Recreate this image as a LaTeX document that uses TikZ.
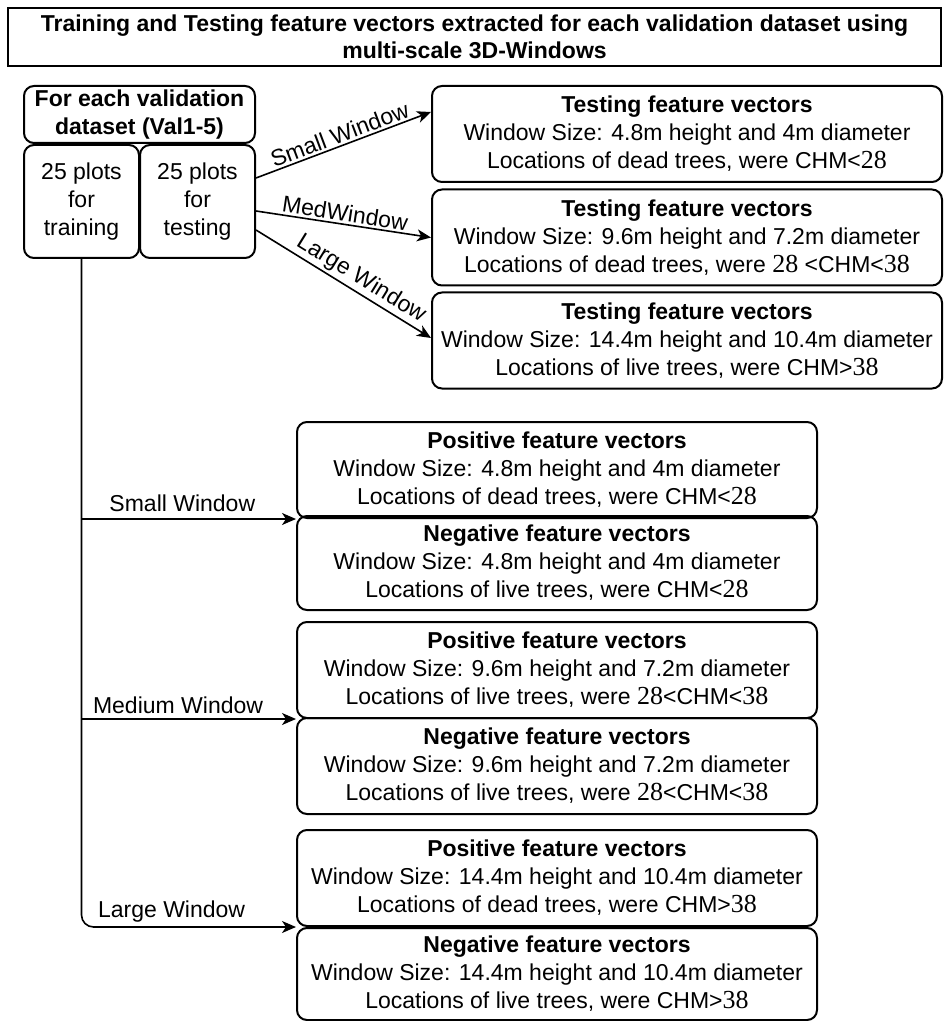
\documentclass[tikz,border=0pt]{standalone}
\usepackage{fontspec}
\setmainfont{Liberation Sans}
\newfontfamily\serifnum{Liberation Serif}
\usetikzlibrary{calc,arrows.meta}
\newcommand{\nb}[1]{{\serifnum\fontsize{13}{14}\selectfont #1}}
\tikzstyle{bx}=[draw, line width=1pt, rounded corners=5pt, align=center, inner sep=0, font=\fontsize{11.5}{14}\selectfont]
\tikzstyle{arr}=[line width=0.8pt, -{Stealth[length=7pt,width=6pt,inset=2pt]}]
\tikzstyle{lbl}=[font=\fontsize{11.5}{14}\selectfont, inner sep=2pt]

\begin{document}
\begin{tikzpicture}[x=0.5pt,y=-0.5pt]
\useasboundingbox (0,0) rectangle (944,1021);
\node at (474.5,37)[bx, rounded corners=0, line width=1.2pt, minimum width=466.5pt, minimum height=29pt, font=\bfseries\fontsize{11.5}{13.5}\selectfont](title){Training and Testing feature vectors extracted for each validation dataset using\\multi-scale 3D-Windows};
\node at (139.5,114.5)[bx, minimum width=115.5pt, minimum height=28.5pt](val){\textbf{For each validation}\\\textbf{dataset (Val1-5)}};
\node at (81.5,201.5)[bx, minimum width=57.5pt, minimum height=56.5pt](tr){25 plots\\for\\training};
\node at (197.5,201.5)[bx, minimum width=57.5pt, minimum height=56.5pt](te){25 plots\\for\\testing};
\node at (687,134)[bx, minimum width=255pt, minimum height=48pt](ts1){\textbf{Testing feature vectors}\\Window Size: 4.8m height and 4m diameter\\Locations of dead trees, were CHM<\nb{28}};
\node at (687,237.5)[bx, minimum width=255pt, minimum height=48pt](ts2){\textbf{Testing feature vectors}\\Window Size: 9.6m height and 7.2m diameter\\Locations of dead trees, were \nb{28} <CHM<\nb{38}};
\node at (687,340.5)[bx, minimum width=255pt, minimum height=48pt](ts3){\textbf{Testing feature vectors}\\Window Size: 14.4m height and 10.4m diameter\\Locations of live trees, were CHM>\nb{38}};
\node at (557,470)[bx, minimum width=260pt, minimum height=48pt](p1){\textbf{Positive feature vectors}\\Window Size: 4.8m height and 4m diameter\\Locations of dead trees, were CHM<\nb{28}};
\node at (557,563)[bx, minimum width=260pt, minimum height=47pt](n1){\textbf{Negative feature vectors}\\Window Size: 4.8m height and 4m diameter\\Locations of live trees, were CHM<\nb{28}};
\node at (557,670)[bx, minimum width=260pt, minimum height=48pt](p2){\textbf{Positive feature vectors}\\Window Size: 9.6m height and 7.2m diameter\\Locations of live trees, were \nb{28}<CHM<\nb{38}};
\node at (557,766)[bx, minimum width=260pt, minimum height=48pt](n2){\textbf{Negative feature vectors}\\Window Size: 9.6m height and 7.2m diameter\\Locations of live trees, were \nb{28}<CHM<\nb{38}};
\node at (557,878)[bx, minimum width=260pt, minimum height=48pt](p3){\textbf{Positive feature vectors}\\Window Size: 14.4m height and 10.4m diameter\\Locations of dead trees, were CHM>\nb{38}};
\node at (557,974)[bx, minimum width=260pt, minimum height=46pt](n3){\textbf{Negative feature vectors}\\Window Size: 14.4m height and 10.4m diameter\\Locations of live trees, were CHM>\nb{38}};
\draw[arr] ($(te.east)+(0,-23.5)$) -- node[lbl, above, sloped, inner sep=1pt]{Small Window} ($(ts1.west)+(0,-22)$);
\draw[arr] ($(te.east)+(0,9.5)$) -- node[lbl, above, sloped, inner sep=1pt]{MedWindow} (ts2.west);
\draw[arr] ($(te.east)+(0,28.5)$) -- node[lbl, above, sloped, inner sep=1pt, pos=0.56]{Large Window} ($(ts3.west)+(0,-2.5)$);
\draw[arr, rounded corners=6pt] (tr.south) |- node[lbl, above, pos=0.71]{Large Window} (p3.south west);
\draw[arr] (tr.south |- p1.south west) -- node[lbl, above, pos=0.47, inner sep=3pt]{Small Window} (p1.south west);
\draw[arr] (tr.south |- p2.south west) -- node[lbl, above, pos=0.45]{Medium Window} (p2.south west);
\end{tikzpicture}
\end{document}
